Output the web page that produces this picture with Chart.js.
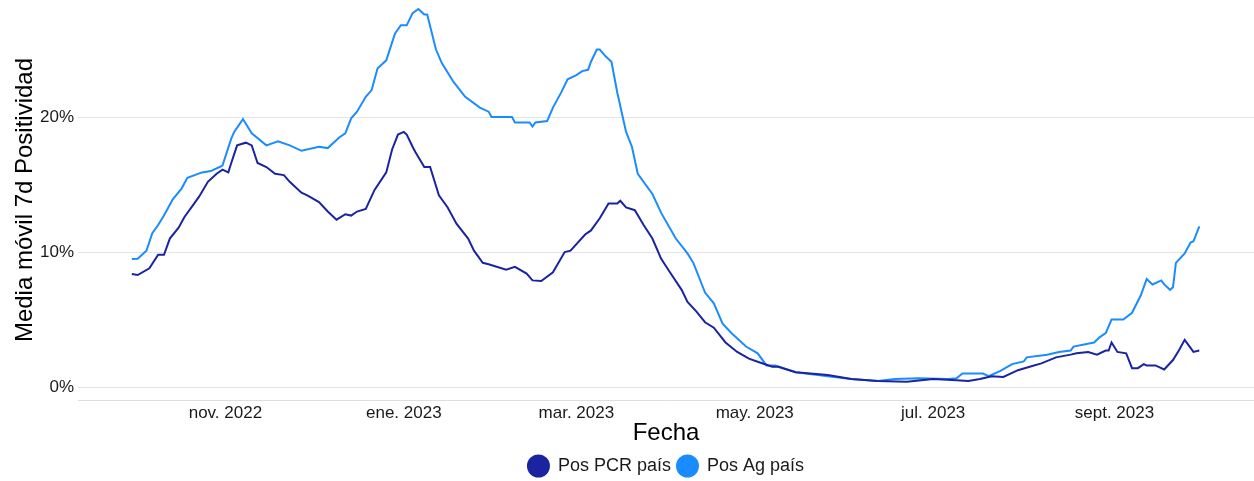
<!DOCTYPE html>
<html>
<head>
<meta charset="utf-8">
<script src="https://cdn.jsdelivr.net/npm/chart.js@4.4.1/dist/chart.umd.min.js"></script>
<style>
  html, body { margin: 0; padding: 0; background: #fff; height: 481px; overflow: hidden; }
  #wrap { width: 1254px; height: 485px; }
</style>
</head>
<body>
<div id="wrap"><canvas id="posChart"></canvas></div>
<script>
// days counted from 2022-10-01 (day 0)
const pcrDays = [-1, 1, 5, 8, 10, 12, 15, 17, 20, 22, 25, 28, 30, 32, 33, 35, 38, 40, 42, 45, 48, 51, 53, 57, 59, 63, 66, 69, 72, 74, 76, 79, 82, 86, 88, 90, 92, 93, 95, 96, 99, 101, 104, 107, 110, 114, 116, 119, 121, 127, 130, 134, 136, 139, 143, 147, 149, 154, 156, 159, 162, 165, 166, 168, 171, 174, 177, 180, 183, 187, 189, 192, 195, 198, 202, 206, 210, 214, 218, 220, 226, 237, 245, 254, 264, 273, 281, 285, 289, 293, 297, 302, 306, 310, 315, 320, 322, 326, 329, 332, 333, 334, 336, 339, 341, 343, 345, 346, 349, 352, 355, 357, 359, 362, 364];
const pcrValues = [8.37, 8.3, 8.8, 9.8, 9.8, 11.0, 11.8, 12.6, 13.5, 14.1, 15.2, 15.8, 16.1, 15.9, 16.6, 17.9, 18.1, 17.9, 16.6, 16.3, 15.8, 15.7, 15.2, 14.4, 14.2, 13.7, 13.0, 12.4, 12.8, 12.7, 13.0, 13.2, 14.6, 15.9, 17.6, 18.7, 18.9, 18.7, 17.8, 17.4, 16.3, 16.3, 14.2, 13.3, 12.1, 11.0, 10.1, 9.2, 9.1, 8.7, 8.9, 8.4, 7.9, 7.85, 8.5, 10.0, 10.1, 11.3, 11.6, 12.5, 13.6, 13.6, 13.8, 13.3, 13.1, 12.0, 11.0, 9.5, 8.5, 7.2, 6.3, 5.6, 4.8, 4.4, 3.3, 2.6, 2.1, 1.8, 1.5, 1.5, 1.1, 0.9, 0.6, 0.45, 0.4, 0.6, 0.5, 0.45, 0.6, 0.8, 0.75, 1.25, 1.5, 1.75, 2.2, 2.4, 2.5, 2.6, 2.4, 2.7, 2.7, 3.3, 2.6, 2.5, 1.4, 1.4, 1.7, 1.6, 1.6, 1.3, 2.0, 2.7, 3.5, 2.6, 2.7];

const agDays = [-1, 1, 4, 6, 8, 10, 13, 16, 18, 23, 26, 29, 30, 33, 34, 37, 40, 45, 49, 53, 57, 63, 66, 70, 72, 74, 76, 79, 81, 83, 86, 89, 91, 93, 95, 97, 99, 100, 103, 105, 109, 113, 118, 121, 122, 129, 130, 135, 136, 137, 141, 143, 146, 148, 151, 153, 155, 156, 158, 159, 161, 163, 165, 168, 170, 172, 177, 180, 185, 189, 191, 195, 198, 201, 204, 209, 213, 216, 219, 226, 237, 245, 254, 260, 268, 278, 281, 283, 290, 292, 296, 300, 304, 305, 312, 316, 320, 321, 328, 330, 332, 334, 338, 341, 344, 346, 348, 351, 352, 354, 355, 356, 359, 361, 362, 364];
const agValues = [9.48, 9.5, 10.1, 11.4, 12.0, 12.7, 13.9, 14.7, 15.5, 15.9, 16.0, 16.3, 16.4, 18.4, 18.9, 19.85, 18.8, 17.9, 18.2, 17.9, 17.5, 17.8, 17.7, 18.5, 18.8, 19.9, 20.4, 21.5, 22.0, 23.6, 24.2, 26.2, 26.8, 26.8, 27.7, 28.0, 27.6, 27.6, 25.0, 24.0, 22.6, 21.5, 20.7, 20.4, 20.0, 20.0, 19.6, 19.6, 19.3, 19.6, 19.7, 20.7, 21.9, 22.8, 23.1, 23.4, 23.5, 24.1, 25.0, 25.0, 24.5, 24.1, 21.8, 18.9, 17.8, 15.8, 14.3, 12.9, 11.0, 9.9, 9.2, 7.0, 6.2, 4.7, 4.0, 3.0, 2.5, 1.6, 1.6, 1.1, 0.8, 0.6, 0.45, 0.6, 0.65, 0.6, 0.65, 1.0, 1.0, 0.8, 1.2, 1.7, 1.9, 2.2, 2.4, 2.6, 2.7, 3.0, 3.3, 3.7, 4.0, 5.0, 5.0, 5.5, 6.8, 8.0, 7.6, 7.9, 7.6, 7.2, 7.4, 9.2, 9.9, 10.7, 10.8, 11.9];

const monthTicks = [31, 92, 151, 212, 273, 335];
const monthLabels = ['nov. 2022', 'ene. 2023', 'mar. 2023', 'may. 2023', 'jul. 2023', 'sept. 2023'];
const yTicks = [0, 10, 20];

const pts = (days, vals) => days.map((d, i) => ({ x: d, y: vals[i] }));
const FONT = 'Liberation Sans, Arial, sans-serif';

const ctx = document.getElementById('posChart').getContext('2d');
const posChart = new Chart(ctx, {
    type: 'line',
    data: {
        datasets: [
            {
                label: 'Pos PCR país',
                data: pts(pcrDays, pcrValues),
                borderColor: '#1a24a0',
                backgroundColor: '#1a24a0',
                borderWidth: 2,
                pointRadius: 0,
                tension: 0
            },
            {
                label: 'Pos Ag país',
                data: pts(agDays, agValues),
                borderColor: '#1a8cff',
                backgroundColor: '#1a8cff',
                borderWidth: 2,
                pointRadius: 0,
                tension: 0
            }
        ]
    },
    options: {
        responsive: true,
        maintainAspectRatio: false,
        animation: false,
        layout: { padding: 0 },
        plugins: {
            tooltip: { enabled: false },
            legend: {
                position: 'bottom',
                fullSize: false,
                labels: {
                    usePointStyle: true,
                    pointStyle: 'circle',
                    boxHeight: 15,
                    pointStyleWidth: 21,
                    padding: 6,
                    color: '#1a1a1a',
                    font: { family: FONT, size: 18 }
                }
            }
        },
        scales: {
            x: {
                type: 'linear',
                min: -19.4,
                max: 382.7,
                grid: { display: false, drawTicks: false },
                border: { display: true, color: '#dedede', width: 1 },
                ticks: {
                    autoSkip: false,
                    maxRotation: 0,
                    padding: 3,
                    color: '#1a1a1a',
                    font: { family: FONT, size: 17 },
                    callback: v => monthLabels[monthTicks.indexOf(v)]
                },
                afterBuildTicks: s => { s.ticks = monthTicks.map(v => ({ value: v })); },
                title: {
                    display: true,
                    text: 'Fecha',
                    color: '#000',
                    font: { family: FONT, size: 24 },
                    padding: { top: 0, bottom: 3 }
                },
                afterFit: s => { s.height = 51; }
            },
            y: {
                min: -0.96,
                max: 28.67,
                grid: { color: '#e4e4e4', drawTicks: false },
                border: { display: false },
                ticks: {
                    padding: 4,
                    color: '#1a1a1a',
                    font: { family: FONT, size: 17 },
                    callback: v => v + '%'
                },
                afterBuildTicks: s => { s.ticks = yTicks.map(v => ({ value: v })); },
                title: {
                    display: true,
                    text: 'Media móvil 7d Positividad',
                    color: '#000',
                    font: { family: FONT, size: 24 },
                    padding: { top: 11, bottom: 0 }
                },
                afterFit: s => { s.width = 78; s.paddingTop = 0; s.paddingBottom = 0; }
            }
        }
    }
});
</script>
</body>
</html>
